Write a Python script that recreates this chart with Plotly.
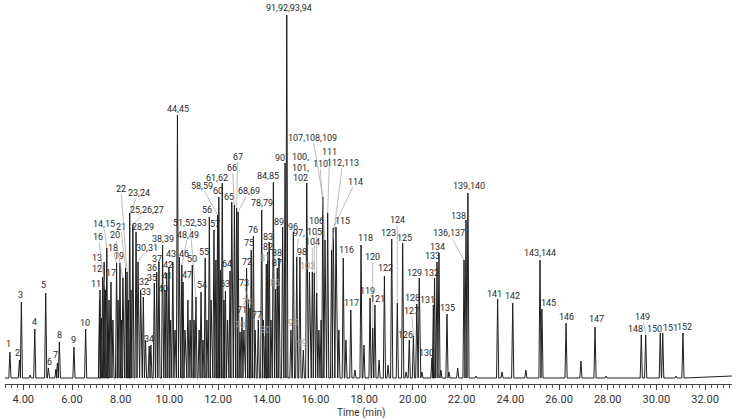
import plotly.graph_objects as go

# ---------------- data ----------------
peak_rt = [
    3.45, 3.84, 3.92, 4.28, 4.47, 4.92, 5.03, 5.34, 5.40, 5.48, 6.08, 6.56,
    7.13, 7.15, 7.21, 7.26, 7.32, 7.37, 7.43, 7.48, 7.52, 7.60, 7.68, 7.83,
    7.89, 7.97, 8.03, 8.09, 8.20, 8.26, 8.32, 8.37, 8.42, 8.50, 8.63, 8.71,
    8.82, 8.93, 9.02, 9.17, 9.24, 9.38, 9.48, 9.57, 9.72, 9.82, 9.89, 9.98,
    10.05, 10.14, 10.23, 10.33, 10.41, 10.51, 10.56, 10.64, 10.76, 10.85, 10.94, 11.01,
    11.09, 11.22, 11.30, 11.38, 11.47, 11.54, 11.64, 11.71, 11.83, 11.91, 11.98, 12.03,
    12.10, 12.17, 12.24, 12.30, 12.39, 12.49, 12.56, 12.67, 12.76, 12.82, 12.90, 12.98,
    13.06, 13.17, 13.25, 13.31, 13.36, 13.45, 13.52, 13.65, 13.79, 13.86, 13.94, 13.98,
    14.04, 14.10, 14.17, 14.27, 14.36, 14.43, 14.50, 14.65, 14.75, 14.82, 14.99, 15.09,
    15.23, 15.36, 15.50, 15.64, 15.75, 15.87, 15.95, 16.05, 16.14, 16.23, 16.30, 16.39,
    16.50, 16.66, 16.73, 16.84, 16.96, 17.14, 17.25, 17.45, 17.62, 17.87, 17.99, 18.24,
    18.35, 18.44, 18.61, 18.83, 18.98, 19.13, 19.36, 19.58, 19.72, 19.85, 20.02, 20.16,
    20.26, 20.37, 20.78, 20.84, 20.89, 20.99, 21.07, 21.15, 21.40, 21.48, 21.84, 22.10,
    22.18, 22.26, 22.59, 23.48, 23.66, 24.10, 24.64, 25.22, 25.30, 26.29, 26.90, 27.48,
    27.93, 29.38, 29.56, 30.16, 30.26, 30.80, 31.09,
]
peak_abundance = [
    26, 18, 76, 3, 49, 85, 10, 9, 15, 36, 31, 49,
    78, 88, 60, 101, 116, 88, 130, 48, 78, 96, 58, 115,
    78, 115, 58, 100, 110, 106, 78, 165, 88, 153, 146, 116,
    88, 81, 38, 32, 33, 95, 106, 116, 133, 88, 105, 111,
    58, 116, 48, 263, 121, 113, 96, 48, 78, 58, 113, 58,
    81, 48, 86, 38, 120, 58, 161, 78, 148, 118, 163, 181,
    108, 195, 78, 87, 58, 107, 176, 173, 170, 166, 46, 61,
    48, 110, 78, 70, 128, 142, 48, 58, 168, 58, 42, 114,
    126, 136, 58, 196, 89, 110, 120, 151, 215, 363, 48, 146,
    121, 121, 28, 195, 106, 106, 105, 85, 48, 58, 181, 138,
    165, 128, 150, 151, 48, 120, 38, 68, 8, 133, 33, 80,
    50, 73, 18, 102, 13, 139, 75, 135, 6, 38, 42, 74,
    100, 6, 20, 73, 100, 116, 125, 8, 64, 6, 10, 118,
    158, 185, 2, 79, 6, 75, 8, 118, 69, 55, 17, 51,
    2, 43, 43, 45, 45, 2, 45,
]

label_text = [
    "1", "2", "3", "4", "5", "6", "7", "8", "9", "10",
    "11", "12", "13", "16", "14,15", "17", "18", "19", "20", "21",
    "22", "23,24", "25,26,27", "28,29", "30,31", "32", "33", "34", "35", "36",
    "37", "38,39", "40", "41", "42", "43", "44,45", "46", "47", "48,49",
    "50", "51,52,53", "54", "55", "56", "57", "58,59", "60", "61,62", "63",
    "64", "65", "66", "67", "68,69", "70", "71", "72", "73", "74",
    "75", "76", "77", "78,79", "80", "81", "82", "83", "84,85", "86",
    "87", "88", "89", "90", "91,92,93,94", "95", "96", "97,", "98", "99",
    "100,|101,|102", "103", "104", "105", "106", "107,108,109", "110", "111", "112,113", "114",
    "115", "116", "117", "118", "119", "120", "121", "122", "123", "124",
    "125", "126", "127", "128", "129", "130", "131", "132", "133", "134",
    "135", "136,137", "138", "139,140", "141", "142", "143,144", "145", "146", "147",
    "148", "149", "150", "151", "152",
]
label_rt = [
    3.45, 3.84, 3.92, 4.47, 4.92, 5.03, 5.40, 5.48, 6.08, 6.56,
    7.15, 7.26, 7.32, 7.37, 7.43, 7.60, 7.83, 7.97, 8.09, 8.20,
    8.26, 8.37, 8.50, 8.63, 8.71, 8.82, 8.93, 9.17, 9.38, 9.48,
    9.57, 9.72, 9.82, 9.89, 9.98, 10.14, 10.33, 10.41, 10.56, 10.51,
    10.94, 11.09, 11.30, 11.47, 11.64, 11.83, 11.98, 12.03, 12.17, 12.30,
    12.49, 12.56, 12.67, 12.76, 12.82, 12.90, 12.98, 13.17, 13.25, 13.31,
    13.36, 13.45, 13.65, 13.79, 13.94, 13.98, 14.04, 14.10, 14.27, 14.36,
    14.43, 14.50, 14.65, 14.75, 14.82, 14.99, 15.09, 15.23, 15.36, 15.50,
    15.64, 15.75, 15.87, 15.95, 16.05, 16.30, 16.39, 16.50, 16.66, 16.73,
    16.84, 17.14, 17.45, 17.87, 18.24, 18.35, 18.44, 18.83, 19.13, 19.36,
    19.58, 19.85, 20.02, 20.16, 20.26, 20.78, 20.84, 20.89, 20.99, 21.07,
    21.40, 22.10, 22.18, 22.26, 23.48, 24.10, 25.22, 25.30, 26.29, 27.48,
    29.38, 29.56, 30.16, 30.26, 31.09,
]

# ---------------- label placement (pixel offsets from apex; layout only) ----------------
label_place = {
    "1": (-1, 8), "2": (-2, 7), "3": (-1, 7), "4": (0, 7), "5": (-2, 8), "6": (1, 6),
    "7": (-2, 8), "8": (0, 7), "9": (0, 7), "10": (-1, 6), "11": (-4, 6), "12": (-6, 8),
    "13": (-7, 4), "16": (-7, 53), "14,15": (-3, 24), "17": (0, 9), "18": (-4, 15),
    "19": (-1, 7), "20": (-8, 43), "21": (-5, 41), "22": (-6, 83), "23,24": (9, 20),
    "25,26,27": (14, 15), "28,29": (7, 5), "30,31": (9, 14), "32": (3, 8), "33": (3, 5),
    "34": (0, 7), "35": (-2, 5), "36": (-5, 4), "37": (-2, 3), "38,39": (0, 6), "40": (-2, 1),
    "41": (0, -3), "42": (-1, 2), "43": (-2, 8), "44,45": (1, 6), "46": (5, 3), "47": (4, 7),
    "48,49": (6, 30), "50": (0, 6), "51,52,53": (-6, 74), "54": (1, 7), "55": (-1, 6),
    "56": (-2, 7), "57": (1, 6), "58,59": (-16, 29), "60": (-1, 6), "61,62": (-5, 5),
    "63": (0, 7), "64": (-3, 7), "65": (-3, 5), "66": (-2, 37), "67": (1, 51),
    "68,69": (11, 21), "70": (0, 7), "71": (0, 7), "72": (0, 6), "73": (-5, 17), "74": (-3, 6),
    "75": (-2, 7), "76": (0, 6), "77": (-1, 5), "78,79": (0, 7), "80": (0, 6), "81": (-1, 6),
    "82": (0, 5), "83": (-1, 5), "84,85": (-5, 6), "86": (-1, 6), "87": (0, 5), "88": (-2, 5),
    "89": (-4, 5), "90": (-5, 5), "91,92,93,94": (2, 7), "95": (2, 7), "96": (0, 5),
    "97,": (2, 24), "98": (2, 5), "99": (-1, 7), "100,|101,|102": (-6, 5), "103": (-2, 6),
    "104": (0, 30), "105": (0, 41), "106": (0, 72), "107,108,109": (-10, 59), "110": (-5, 76),
    "111": (2, 61), "112,113": (11, 87), "114": (22, 46), "115": (7, 6), "116": (3, 8),
    "117": (1, 7), "118": (4, 7), "119": (-3, 7), "120": (0, 71), "121": (3, 6), "122": (1, 8),
    "123": (-3, 6), "124": (0, 83), "125": (2, 5), "126": (-4, 5), "127": (-2, 25),
    "128": (-4, 6), "129": (-5, 5), "130": (-5, 5), "131": (-6, 5), "132": (-3, 5),
    "133": (-5, 6), "134": (-1, 6), "135": (1, 6), "136,137": (-15, 27), "138": (-7, 4),
    "139,140": (1, 7), "141": (-3, 5), "142": (0, 7), "143,144": (0, 7), "145": (7, 6),
    "146": (0, 6), "147": (1, 8), "148": (-6, 6), "149": (-3, 18), "150": (-6, 4),
    "151": (8, 5), "152": (2, 6),
}
leader_labels = {"16", "14,15", "18", "20", "21", "22", "23,24", "25,26,27", "30,31",
                 "48,49", "51,52,53", "58,59", "66", "67", "68,69", "73", "97,", "104",
                 "105", "106", "107,108,109", "110", "111", "112,113", "114", "120",
                 "124", "127", "136,137", "149"}
gray_labels = {"70", "74", "80", "81", "86", "95", "99", "103"}

FONT = "Roboto, Liberation Sans, sans-serif"
PEAK_HALF_WIDTH = 0.045

# ---------------- build trace ----------------
xs, ys = [3.25], [0]
for t, h in sorted(zip(peak_rt, peak_abundance)):
    xs += [t - PEAK_HALF_WIDTH, t, t + PEAK_HALF_WIDTH]
    ys += [0, h, 0]
xs.append(33.1)
ys.append(2)

fig = go.Figure()
fig.add_trace(go.Scatter(x=xs, y=ys, mode="lines",
                         line=dict(color="#1e1e1e", width=1), hoverinfo="skip",
                         showlegend=False))

apex = dict(zip(peak_rt, peak_abundance))
annotations = []
for text, rt in zip(label_text, label_rt):
    h = apex[rt]
    dx, dy = label_place[text]
    color = "#9a9a9a" if text in gray_labels else "#2a2a2a"
    lines = text.split("|")
    if len(lines) > 1:
        n = len(lines)
        for i, ln in enumerate(lines):
            annotations.append(dict(x=rt, y=h, xref="x", yref="y", text=ln,
                                    showarrow=False, xshift=dx,
                                    yshift=dy + (n - 1 - i) * 10.5,
                                    xanchor="center", yanchor="middle",
                                    font=dict(family=FONT, size=9, color=color)))
        continue
    if text in leader_labels:
        annotations.append(dict(x=rt, y=h, xref="x", yref="y", text=text,
                                showarrow=True, arrowhead=0, arrowwidth=0.7,
                                arrowcolor="#a0a0a0", standoff=0, startstandoff=0,
                                ax=dx, ay=-dy, axref="pixel", ayref="pixel",
                                xanchor="center", yanchor="middle", borderpad=0,
                                font=dict(family=FONT, size=9, color=color)))
    else:
        annotations.append(dict(x=rt, y=h, xref="x", yref="y", text=text,
                                showarrow=False, xshift=dx, yshift=dy,
                                xanchor="center", yanchor="middle",
                                font=dict(family=FONT, size=9, color=color)))

annotations.append(dict(x=0.491, y=0, xref="paper", yref="paper", text="Time (min)",
                        showarrow=False, yshift=-29, xanchor="center", yanchor="middle",
                        font=dict(family=FONT, size=10, color="#333")))

fig.update_layout(
    width=743, height=419,
    margin=dict(l=5, r=11, t=0, b=35),
    paper_bgcolor="white", plot_bgcolor="white",
    annotations=annotations,
    xaxis=dict(range=[3.248, 33.105], showgrid=False, zeroline=False,
               showline=True, linecolor="#444", linewidth=1,
               ticks="outside", ticklen=5, tickcolor="#444", tickwidth=1,
               tick0=0, dtick=2, tickformat=".2f",
               tickfont=dict(family=FONT, size=11, color="#333"),
               minor=dict(dtick=0.25, ticks="outside", ticklen=3, tickcolor="#555")),
    yaxis=dict(range=[-6, 378], visible=False),
)

fig.write_html("out.html")
